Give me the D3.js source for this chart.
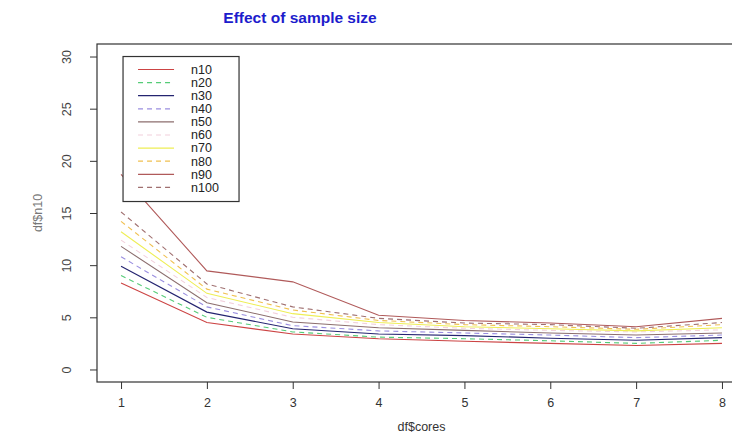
<!DOCTYPE html>
<html>
<head>
<meta charset="utf-8">
<script src="https://cdn.jsdelivr.net/npm/d3@7"></script>
<style>
  body { margin: 0; background: #fff; }
  text { font-family: "Liberation Sans", Arial, sans-serif; }
</style>
</head>
<body>
<svg id="drawing_region"></svg>
<script>
// data
const cores = [1, 2, 3, 4, 5, 6, 7, 8];
const seriesNames = ["n10", "n20", "n30", "n40", "n50", "n60", "n70", "n80", "n90", "n100"];
const n10  = [8.3, 4.5, 3.4, 2.95, 2.7, 2.5, 2.3, 2.5];
const n20  = [9.0, 5.0, 3.6, 3.1, 2.95, 2.75, 2.5, 2.8];
const n30  = [9.9, 5.5, 3.9, 3.4, 3.25, 3.0, 2.8, 3.05];
const n40  = [10.8, 6.0, 4.2, 3.7, 3.5, 3.3, 3.05, 3.3];
const n50  = [11.8, 6.4, 4.55, 4.0, 3.75, 3.5, 3.3, 3.5];
const n60  = [12.4, 6.9, 5.0, 4.3, 3.95, 3.75, 3.6, 3.8];
const n70  = [13.2, 7.3, 5.35, 4.5, 4.1, 3.9, 3.7, 4.0];
const n80  = [14.2, 7.7, 5.7, 4.7, 4.3, 4.1, 3.85, 4.3];
const n90  = [18.7, 9.45, 8.4, 5.2, 4.7, 4.45, 4.1, 4.9];
const n100 = [15.1, 8.2, 6.0, 4.9, 4.45, 4.3, 3.95, 4.5];
const yTicks = [0, 5, 10, 15, 20, 25, 30];

const seriesValues = [n10, n20, n30, n40, n50, n60, n70, n80, n90, n100];
const colors = ["#cc4444", "#55cc77", "#242470", "#9a8ee0", "#8c6e6e",
                "#f2d0dc", "#eeee55", "#f0c050", "#b05a5a", "#a07070"];
const dashed = [false, true, false, true, false, true, false, true, false, true];

const width = 732, height = 435;
const plot = {left: 97, top: 44, right: 746, bottom: 382};

const svg = d3.select('#drawing_region')
    .attr('width', width)
    .attr('height', height);

// R style: range padded 4% on each side
const xscale = d3.scaleLinear()
    .domain([1 - 0.28, 8 + 0.28])
    .range([plot.left, plot.right]);
const yscale = d3.scaleLinear()
    .domain([0 - 1.2, 30 + 1.2])
    .range([plot.bottom, plot.top]);

svg.append('text')
    .attr('x', 300)
    .attr('y', 23)
    .attr('text-anchor', 'middle')
    .attr('font-size', 15.5)
    .attr('font-weight', 'bold')
    .attr('fill', '#1c1ccc')
    .text('Effect of sample size');

// lines
const line = d3.line()
    .x((d, i) => xscale(cores[i]))
    .y(d => yscale(d));

svg.append('g').selectAll('path')
    .data(seriesValues)
    .join('path')
    .attr('d', line)
    .attr('fill', 'none')
    .attr('stroke', (d, i) => colors[i])
    .attr('stroke-width', 1.1)
    .attr('stroke-dasharray', (d, i) => dashed[i] ? '5,4' : null);

// plot box
svg.append('rect')
    .attr('x', plot.left)
    .attr('y', plot.top)
    .attr('width', plot.right - plot.left)
    .attr('height', plot.bottom - plot.top)
    .attr('fill', 'none')
    .attr('stroke', '#333')
    .attr('stroke-width', 1.2);

// x axis
const xaxis = d3.axisBottom(xscale)
    .tickValues(cores)
    .tickSize(7)
    .tickPadding(9)
    .tickFormat(d3.format('d'));
const xg = svg.append('g')
    .attr('transform', `translate(0, ${plot.bottom})`)
    .call(xaxis);
xg.select('.domain').remove();
xg.selectAll('line').attr('stroke', '#333');
xg.selectAll('text')
    .attr('font-size', 12.5)
    .attr('fill', '#333')
    .style('font-family', '"Liberation Sans", Arial, sans-serif');

// y axis
const yaxis = d3.axisLeft(yscale)
    .tickValues(yTicks)
    .tickSize(7)
    .tickFormat(d3.format('d'));
const yg = svg.append('g')
    .attr('transform', `translate(${plot.left}, 0)`)
    .call(yaxis);
yg.select('.domain').remove();
yg.selectAll('line').attr('stroke', '#333');
yg.selectAll('text')
    .attr('x', null)
    .attr('dy', null)
    .attr('transform', d => `translate(-30, 0) rotate(-90)`)
    .attr('text-anchor', 'middle')
    .attr('dominant-baseline', 'central')
    .attr('font-size', 12.5)
    .attr('fill', '#444')
    .style('font-family', '"Liberation Sans", Arial, sans-serif');

// axis titles
svg.append('text')
    .attr('x', xscale(4.5))
    .attr('y', 431)
    .attr('text-anchor', 'middle')
    .attr('font-size', 12.5)
    .attr('fill', '#333')
    .text('df$cores');

svg.append('text')
    .attr('transform', `translate(42, ${yscale(15)}) rotate(-90)`)
    .attr('text-anchor', 'middle')
    .attr('font-size', 12.5)
    .attr('fill', '#777')
    .text('df$n10');

// legend anchored at (1, 30) like R's legend(1, 30, ...)
const lx = xscale(1) + 2, ly = yscale(30);
const rowH = 13.1;
const legend = svg.append('g');
legend.append('rect')
    .attr('x', lx)
    .attr('y', ly)
    .attr('width', 116)
    .attr('height', 145)
    .attr('fill', '#fff')
    .attr('stroke', '#333')
    .attr('stroke-width', 1.2);
seriesNames.forEach((name, i) => {
    const y = ly + 13 + i * rowH;
    legend.append('line')
        .attr('x1', lx + 15).attr('x2', lx + 51)
        .attr('y1', y).attr('y2', y)
        .attr('stroke', colors[i])
        .attr('stroke-width', 1.2)
        .attr('stroke-dasharray', dashed[i] ? '5,4' : null);
    legend.append('text')
        .attr('x', lx + 68)
        .attr('y', y)
        .attr('dy', '0.35em')
        .attr('font-size', 12.5)
        .attr('fill', '#222')
        .text(name);
});
</script>
</body>
</html>
